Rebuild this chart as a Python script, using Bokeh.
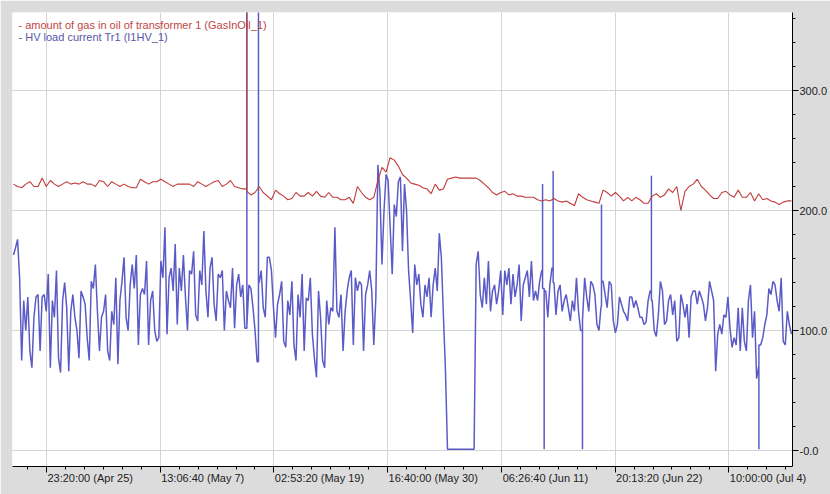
import numpy as np
from bokeh.plotting import figure
from bokeh.models import Range1d, FixedTicker, Label, LinearAxis
from bokeh.embed import file_html
from bokeh.resources import INLINE

# time axis in kiloseconds relative to 23:20:00 (Apr 25)
x_tick_ks = [0, 1000, 2000, 3000, 4000, 5000, 6000]
x_tick_labels = ["23:20:00 (Apr 25)", "13:06:40 (May 7)", "02:53:20 (May 19)",
                 "16:40:00 (May 30)", "06:26:40 (Jun 11)", "20:13:20 (Jun 22)",
                 "10:00:00 (Jul 4)"]
y_ticks = [0, 100, 200, 300]
y_tick_labels = ["-0.0", "100.0", "200.0", "300.0"]

legend_gas = "- amount of gas in oil of transformer 1 (GasInOil_1)"
legend_cur = "- HV load current Tr1 (I1HV_1)"

# HV load current Tr1 (I1HV_1), one reading every 18 ks
cur_start_ks = -290
cur_step_ks = 18
cur_values = [
    163, 169, 176, 144, 75, 125, 100, 128, 83, 69,
    111, 128, 130, 83, 128, 130, 116, 147, 69, 125,
    111, 150, 77, 65, 125, 140, 119, 66, 116, 130,
    111, 100, 77, 133, 128, 122, 94, 75, 141, 135,
    155, 116, 83, 111, 116, 130, 83, 75, 116, 105,
    144, 72, 125, 141, 161, 111, 100, 138, 155, 135,
    163, 88, 130, 135,
    130, 158, 88, 125, 133, 100, 91, 94, 158, 144,
    186, 97, 144, 152, 133, 172, 105, 152, 133, 163,
    128, 100, 150, 147, 166, 113, 108, 150, 138, 183,
    133, 111, 152, 161, 122, 108, 147, 144, 150, 100,
    133, 125, 119, 152, 102, 138, 147, 128, 138, 102,
    104, 138, 135, 119, 100, 74, 140, 150, 119, 111,
    161, 161, 150, 119,
    94, 122, 130, 141, 91, 86, 125, 113, 141, 88,
    75, 130, 111, 147, 83, 127, 125, 144, 97, 77,
    61, 133, 111, 75, 69, 125, 105, 119, 116, 186,
    116, 111, 130, 83, 116, 133, 144, 150, 88, 144,
    133, 141, 138, 83, 130, 138, 150, 133, 88, 127,
    238, 215, 155, 200, 230, 225, 186, 147, 205, 195,
    224, 228, 166, 222,
    200, 150, 125, 98, 155, 138, 147, 122, 111, 138,
    128, 144, 111, 138, 152, 133, 181, 161, 113, 67,
    1, 1, 1, 1, 1, 1, 1, 1, 1, 1,
    1, 1, 1, 1,
    155, 166, 130, 119, 144, 122,
    158, 116, 133, 138, 122, 133, 150, 113, 150, 138,
    152, 122, 147, 128, 138, 155, 108, 138, 144, 150,
    128, 158, 125, 133,
    125, 141, 150, 135, 133, 111, 138, 152, 140, 113,
    133, 138, 116, 125, 130, 119, 108, 125, 116, 144,
    116, 100, 110, 144, 128, 116, 141, 138, 130, 105,
    100, 120, 141, 130, 119, 141, 138, 108, 98, 105,
    128, 122, 116, 113, 108, 128, 128, 119, 125, 119,
    111, 111, 105, 107, 125, 133, 125, 100, 95, 113,
    141, 133, 105,
    108, 125, 130, 113, 125, 91, 94, 130, 122, 111,
    122, 94, 128, 133, 133, 122, 133, 128, 122, 108,
    119, 141, 133, 125, 66, 97, 105, 97, 113, 111,
    128, 102, 86, 94, 88, 119, 83, 119, 91, 83,
    125, 138, 94, 116, 60, 70, 88, 94, 105, 113,
    135, 130, 141, 138, 125, 116, 144, 91, 88, 116,
    105, 97,
]
# short pulses in the load current: time (ks) and extreme value reached
cur_pulse_ks = [1762, 1864, 4362, 4376, 4455, 4713, 4880, 5319, 6264]
cur_pulse_val = [400, 400, 222, 1, 233, 1, 205, 229, 1]

# amount of gas in oil of transformer 1 (GasInOil_1), one reading every 36 ks
gas_start_ks = -290
gas_step_ks = 36
gas_values = [
    222, 220, 219, 222, 224, 220, 220, 227, 220, 225,
    222, 220, 222, 224, 222, 223, 222, 224, 222, 222,
    220, 225, 224, 220, 224, 222, 220, 222, 220, 219,
    219, 226,
    224, 222, 224, 224, 226, 224, 222, 220, 222, 222,
    222, 222, 220, 224, 222, 220, 222, 224, 225, 220,
    222, 225, 220, 219, 218, 216, 213, 215, 220, 215,
    212, 209,
    217, 214, 212, 209, 210, 215, 212, 212, 215, 212,
    216, 212, 211, 215, 211, 211, 209, 209, 211, 206,
    220, 215, 211, 209, 211, 225, 236, 232, 244, 242,
    237, 230,
    227, 223, 222, 221, 219, 218, 214, 222, 217, 218,
    226, 227, 228, 227, 227, 227, 227, 227, 225, 222,
    219, 215, 213, 215, 216, 213, 214, 212, 212, 211,
    211, 211,
    209, 208, 209, 208, 210, 208, 207, 208, 206, 204,
    214, 211, 209, 208, 207, 206, 217, 215, 212, 215,
    212, 208, 211, 208, 211, 209, 206, 206, 212, 214,
    211, 213,
    218, 215, 220, 200, 216, 220, 222, 226, 220, 217,
    213, 210, 210, 215, 216, 213, 211, 217, 211, 211,
    215, 208, 214, 209, 210, 208, 207, 205, 207, 208,
    208,
]
gas_pulse_ks = [1762]
gas_pulse_val = [400]


def with_pulses(t, v, pulse_t, pulse_v):
    """Insert vertical excursions between the regular readings."""
    xs, ys = list(t), list(v)
    for pt, pv in sorted(zip(pulse_t, pulse_v), reverse=True):
        i = int(np.searchsorted(t, pt)) - 1
        xs[i + 1:i + 1] = [pt, pt, pt]
        ys[i + 1:i + 1] = [v[i], pv, v[i + 1]]
    return xs, ys


cur_t = cur_start_ks + cur_step_ks * np.arange(len(cur_values))
gas_t = gas_start_ks + gas_step_ks * np.arange(len(gas_values))
cur_x, cur_y = with_pulses(cur_t, cur_values, cur_pulse_ks, cur_pulse_val)
gas_x, gas_y = with_pulses(gas_t, gas_values, gas_pulse_ks, gas_pulse_val)

X0, X1 = -298.6, 6559.5
Y0, Y1 = -13.3, 365.0
FRAME_W = 781
px_per_ks = FRAME_W / (X1 - X0)

p = figure(width=830, height=494, output_backend="svg", toolbar_location=None,
           x_range=Range1d(X0, X1), y_range=Range1d(Y0, Y1),
           y_axis_location="right",
           min_border_left=12, min_border_right=37, min_border_top=12, min_border_bottom=28)
p.background_fill_color = "white"
p.border_fill_color = "#dcdcdc"
p.outline_line_color = None

p.line(cur_x, cur_y, line_color="#5b5bc8", line_width=1.5)
p.line(gas_x, gas_y, line_color="#c03c3c", line_width=1.1)

FONT = "Liberation Sans"
TXT = "#222222"

# tick marks and grid on the main time axis (no text there)
minor_x = [k * 1000.0 / 6 for k in range(-2, 40)]
xa = p.xaxis[0]
xa.ticker = FixedTicker(ticks=x_tick_ks, minor_ticks=minor_x)
xa.major_label_overrides = {t: "" for t in x_tick_ks}
xa.major_label_text_font_size = "0px"
xa.major_label_standoff = 0

minor_y = list(range(-20, 380, 20))
ya = p.yaxis[0]
ya.ticker = FixedTicker(ticks=y_ticks, minor_ticks=minor_y)
ya.major_label_overrides = {t: s for t, s in zip(y_ticks, y_tick_labels)}
ya.major_label_text_color = TXT
ya.major_label_text_font = FONT
ya.major_label_text_font_size = "11px"
ya.major_label_standoff = 1

for ax in (xa, ya):
    ax.axis_line_color = "black"
    ax.major_tick_line_color = "black"
    ax.minor_tick_line_color = "black"
    ax.major_tick_in = 0
    ax.major_tick_out = 6
    ax.minor_tick_in = 0
    ax.minor_tick_out = 3

# time labels start at their tick: a second, line-less axis carries the text,
# its ticks shifted right by half of each label's width (Arial/Liberation metrics)
em = {c: 0.556 for c in "0123456789aupn"}
em.update({":": 0.278, " ": 0.278, "(": 0.333, ")": 0.333, "A": 0.667, "r": 0.333,
           "M": 0.833, "y": 0.5, "J": 0.5, "l": 0.222})
label_pos = []
for t, s in zip(x_tick_ks, x_tick_labels):
    w_px = 11 * sum(em.get(c, 0.556) for c in s)
    label_pos.append(round(t + (w_px / 2 + 1) / px_per_ks, 3))
xlab = LinearAxis(ticker=FixedTicker(ticks=label_pos, minor_ticks=[]),
                  major_label_overrides={t: s for t, s in zip(label_pos, x_tick_labels)},
                  axis_line_color=None, major_tick_line_color=None,
                  minor_tick_line_color=None, major_tick_in=0, major_tick_out=0,
                  major_label_standoff=-1, major_label_text_font=FONT,
                  major_label_text_font_size="11px", major_label_text_color=TXT)
p.add_layout(xlab, "below")

p.xgrid.grid_line_color = "#d4d4d4"
p.ygrid.grid_line_color = "#d4d4d4"

lx = X0 + 6 / px_per_ks
p.add_layout(Label(x=lx, y=355, text=legend_gas, text_color="#c04646",
                   text_font=FONT, text_font_size="11px", text_baseline="middle"))
p.add_layout(Label(x=lx, y=344.2, text=legend_cur, text_color="#5656aa",
                   text_font=FONT, text_font_size="11px", text_baseline="middle"))

open("out.html", "w").write(file_html(p, INLINE))
